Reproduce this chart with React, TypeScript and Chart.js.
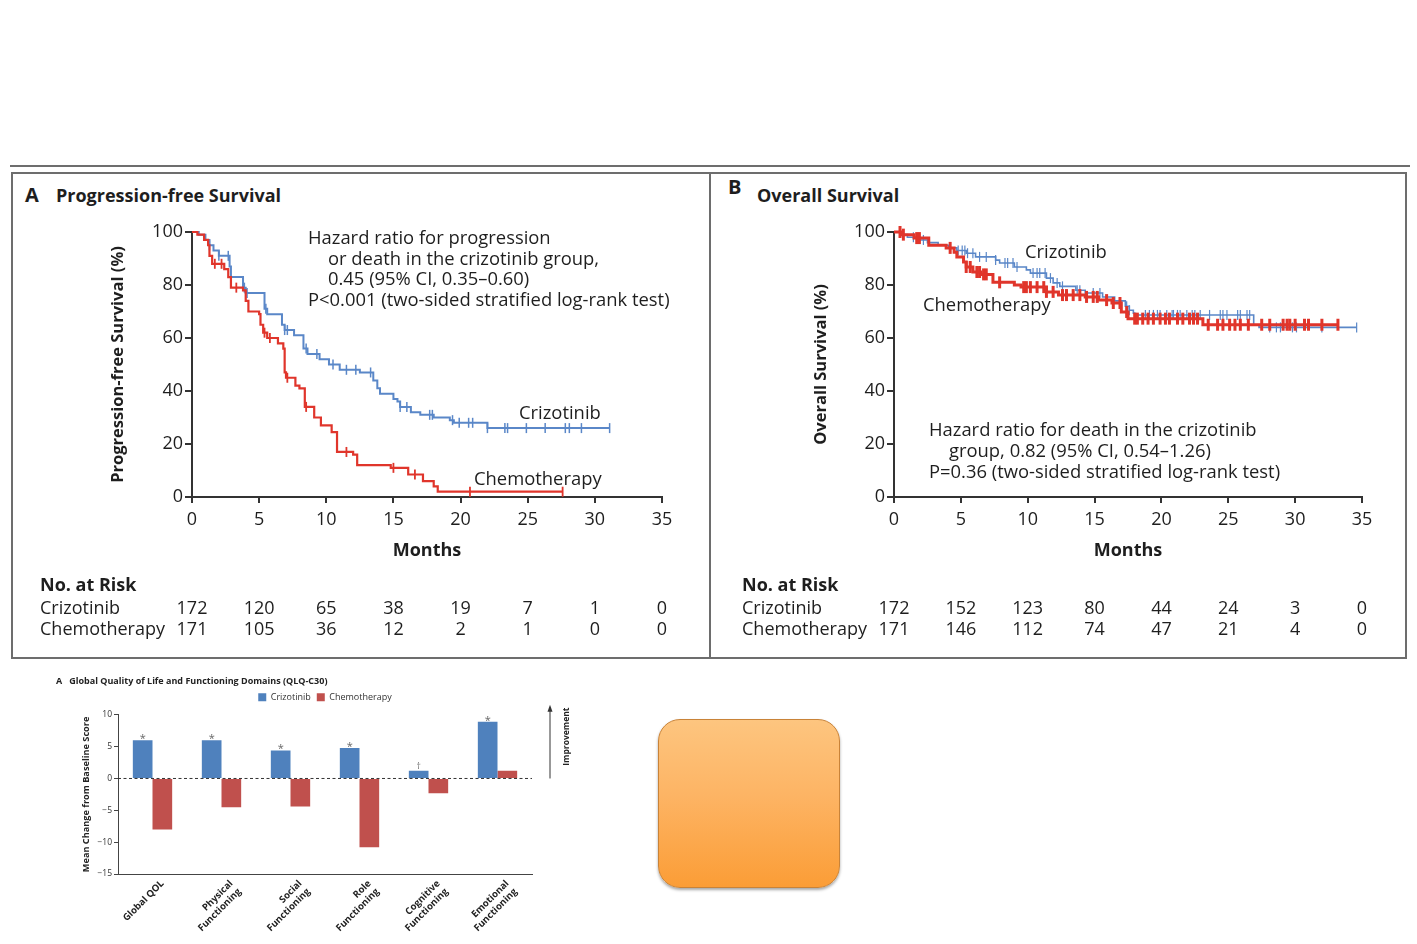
import React, { useEffect, useRef } from 'react';
import { Chart, registerables } from 'chart.js';

Chart.register(...registerables);

const FONT = '"Open Sans", "Noto Sans", "DejaVu Sans", sans-serif';
const INK = '#1e1e1e';
const AXIS = '#333333';
const BLUE = '#5a87c8';
const RED = '#e0352b';
const BAR_BLUE = '#4f81bd';
const BAR_RED = '#c0504d';
const FRAME = '#6d6d6d';

// ---------- Kaplan-Meier data ----------
const monthTicks = [0, 5, 10, 15, 20, 25, 30, 35];

const pfsCrizTimes = [0, 0.5, 1.0, 1.3, 1.6, 2.0, 2.8, 2.9, 3.8, 4.0, 5.4, 5.6, 6.7, 6.9, 7.6, 8.3, 8.6, 9.5, 10.2, 11.0, 12.5, 13.5, 13.8, 14.0, 15.0, 15.3, 15.5, 16.3, 17.0, 18.0, 19.2, 19.5, 22.0];
const pfsCrizSurv = [100, 99, 97, 95, 93, 91, 87, 83, 79, 77, 71, 69, 65, 63, 61, 56, 54, 52, 50, 48, 47, 44, 41, 39, 37, 36, 34, 32, 31, 30, 29, 28, 26];
const pfsCrizCensor = [1.3, 2.0, 2.7, 3.9, 4.1, 5.5, 6.9, 7.1, 8.5, 9.3, 10.5, 11.5, 12.2, 13.3, 15.5, 16.0, 17.7, 17.9, 19.4, 19.9, 20.6, 20.9, 22.0, 23.3, 23.5, 24.9, 26.3, 27.8, 28.1, 29.0, 31.1];

const pfsChemoTimes = [0, 0.4, 0.9, 1.2, 1.3, 1.5, 2.4, 2.7, 2.9, 3.8, 4.0, 4.2, 5.0, 5.1, 5.3, 5.6, 6.4, 6.8, 6.9, 7.0, 7.7, 8.0, 8.4, 9.1, 9.6, 10.4, 10.8, 12.0, 12.3, 14.8, 16.1, 17.2, 18.0, 18.3];
const pfsChemoSurv = [100, 99, 97, 95, 91, 88, 86, 83, 79, 78, 74, 70, 69, 65, 62, 60, 58, 56, 47, 45, 42, 41, 34, 30, 27, 24.5, 17, 16, 12, 11, 8.5, 6, 4, 2];
const pfsChemoCensor = [1.7, 2.2, 3.3, 5.4, 5.8, 7.1, 8.5, 11.5, 15.0, 16.6, 20.7, 27.6];

const osCrizTimes = [0, 0.5, 1.0, 1.8, 2.5, 3.3, 4.1, 4.7, 5.4, 6.1, 7.6, 7.9, 9.0, 9.9, 10.2, 11.4, 11.9, 12.4, 13.6, 14.3, 15.6, 16.5, 17.3, 17.6, 17.9, 18.0, 26.9, 27.3];
const osCrizSurv = [100, 99, 98, 97, 96, 95, 94, 93, 92, 90.6, 89.4, 88.3, 86.8, 85.7, 84.5, 82.6, 80.8, 79.5, 78, 77, 75.5, 74, 72, 70.5, 69.4, 68.7, 65, 64];
const osCrizCensor = [1.45, 2.2, 4.8, 5.1, 5.3, 5.5, 5.9, 6.4, 6.9, 7.6, 8.3, 8.5, 8.9, 9.2, 10.4, 10.7, 10.9, 11.3, 11.7, 12.2, 12.6, 13.7, 13.9, 14.9, 15.4, 17.4, 17.6, 18.8, 19.1, 19.4, 19.7, 19.9, 20.4, 20.8, 20.9, 21.2, 21.4, 21.9, 22.3, 22.5, 22.9, 23.6, 24.4, 24.6, 24.9, 25.7, 25.9, 26.4, 26.6, 28.1, 28.6, 28.9, 29.8, 30.1, 32.0, 34.6];

const osChemoTimes = [0, 0.6, 1.5, 2.6, 3.9, 4.5, 4.7, 5.2, 5.4, 5.9, 6.5, 7.4, 9.0, 9.5, 11.4, 12.3, 14.3, 15.3, 16.3, 17.0, 17.5, 23.1];
const osChemoSurv = [100, 99, 97.7, 95, 94, 92.4, 90.6, 88.7, 86.8, 84.9, 84, 81, 80, 79.2, 77.4, 76.2, 75.5, 74.3, 73.2, 69.8, 67.3, 65];
const osChemoCensor = [0.45, 0.7, 1.7, 1.9, 4.2, 5.4, 5.7, 6.2, 6.4, 6.7, 6.9, 7.9, 9.7, 9.9, 10.2, 10.7, 11.2, 11.4, 11.9, 12.6, 12.9, 13.4, 13.9, 14.4, 14.9, 15.2, 15.9, 16.4, 16.9, 17.4, 18.0, 18.2, 18.6, 19.0, 19.4, 19.9, 20.3, 20.6, 21.2, 21.6, 22.1, 22.4, 22.7, 23.5, 24.2, 24.6, 25.1, 25.5, 25.9, 26.5, 27.5, 28.1, 29.1, 29.4, 29.6, 30.0, 30.7, 31.0, 32.0, 33.2];

const pfsAtRiskCriz = [172, 120, 65, 38, 19, 7, 1, 0];
const pfsAtRiskChemo = [171, 105, 36, 12, 2, 1, 0, 0];
const osAtRiskCriz = [172, 152, 123, 80, 44, 24, 3, 0];
const osAtRiskChemo = [171, 146, 112, 74, 47, 21, 4, 0];

// ---------- QLQ-C30 bar data ----------
const qolDomains = [['Global QOL'], ['Physical', 'Functioning'], ['Social', 'Functioning'], ['Role', 'Functioning'], ['Cognitive', 'Functioning'], ['Emotional', 'Functioning']];
const qolCriz = [6.0, 6.0, 4.4, 4.8, 1.2, 8.9];
const qolChemo = [-8.0, -4.5, -4.4, -10.8, -2.3, 1.2];
const qolMarks = ['*', '*', '*', '*', '†', '*'];

function survivalAt(times: number[], surv: number[], t: number) {
  let v = surv[0];
  for (let i = 0; i < times.length; i++) if (times[i] <= t) v = surv[i];
  return v;
}

const atRiskPlugin = {
  id: 'atRisk',
  afterDraw(chart: any, _args: any, o: any) {
    const { ctx } = chart;
    const xs = chart.scales.x;
    ctx.save();
    ctx.fillStyle = INK;
    ctx.textBaseline = 'middle';
    ctx.textAlign = 'left';
    ctx.font = `bold 18px ${FONT}`;
    ctx.fillText('No. at Risk', o.labelX, o.headY);
    ctx.font = `18px ${FONT}`;
    o.rows.forEach((row: any, r: number) => {
      ctx.textAlign = 'left';
      ctx.fillText(row.label, o.labelX, o.rowY[r]);
      ctx.textAlign = 'center';
      row.values.forEach((v: number, i: number) => {
        ctx.fillText(String(v), xs.getPixelForValue(monthTicks[i]), o.rowY[r]);
      });
    });
    ctx.restore();
  },
};

type Series = { times: number[]; surv: number[]; censor: number[]; color: string; lineWidth: number; markSize: number; markWidth: number };

function KMChart(props: {
  left: number; top: number; width: number; height: number;
  pad: { left: number; right: number; top: number; bottom: number };
  yWidth: number; yTitle: string; yTitlePad: number; series: Series[];
  atRisk: { label: string; values: number[] }[];
}) {
  const ref = useRef<HTMLCanvasElement>(null);
  useEffect(() => {
    const datasets: any[] = [];
    props.series.forEach((s) => {
      const end = Math.max(...s.censor);
      const curve = s.times.map((t, i) => ({ x: t, y: s.surv[i] }));
      curve.push({ x: end, y: s.surv[s.surv.length - 1] });
      datasets.push({
        data: curve, borderColor: s.color, borderWidth: s.lineWidth, stepped: 'before',
        pointRadius: 0, fill: false, clip: false,
      });
      datasets.push({
        data: s.censor.map((t) => ({ x: t, y: survivalAt(s.times, s.surv, t) })),
        showLine: false, pointStyle: 'line', pointRotation: 90, pointRadius: s.markSize,
        pointBorderWidth: s.markWidth, pointBorderColor: s.color, pointBackgroundColor: s.color,
        borderColor: s.color, clip: false,
      });
    });
    const tickFont = { family: FONT, size: 18 };
    const chart = new Chart(ref.current as HTMLCanvasElement, {
      type: 'line',
      data: { datasets },
      plugins: [atRiskPlugin],
      options: {
        animation: false,
        responsive: false,
        events: [],
        layout: { padding: props.pad },
        plugins: {
          legend: { display: false },
          tooltip: { enabled: false },
          atRisk: {
            labelX: 20, headY: 586 - props.top,
            rowY: [609 - props.top, 630 - props.top],
            rows: props.atRisk,
          },
        } as any,
        scales: {
          x: {
            type: 'linear', min: 0, max: 35,
            ticks: { stepSize: 5, font: tickFont, color: INK, padding: 6, maxRotation: 0 },
            grid: { display: true, drawOnChartArea: false, drawTicks: true, tickLength: 6, tickWidth: 2, tickColor: AXIS, color: AXIS, lineWidth: 2 },
            border: { display: true, color: AXIS, width: 2 },
            title: { display: true, text: 'Months', color: INK, font: { family: FONT, size: 18, weight: 'bold' }, padding: { top: 0, bottom: 3 } },
            afterFit: (s: any) => { s.height = 68; },
          },
          y: {
            type: 'linear', min: 0, max: 100,
            ticks: { stepSize: 20, font: tickFont, color: INK, padding: 2 },
            grid: { display: true, drawOnChartArea: false, drawTicks: true, tickLength: 7, tickWidth: 2, tickColor: AXIS, color: AXIS, lineWidth: 2 },
            border: { display: true, color: AXIS, width: 2 },
            title: { display: true, text: props.yTitle, color: INK, font: { family: FONT, size: 16.5, weight: 'bold' }, padding: { top: props.yTitlePad, bottom: 0 } },
            afterFit: (s: any) => { s.width = props.yWidth; },
          },
        },
      } as any,
    });
    return () => chart.destroy();
  }, []);
  return (
    <canvas ref={ref} width={props.width} height={props.height}
      style={{ position: 'absolute', left: props.left, top: props.top, width: props.width, height: props.height, display: 'block' }} />
  );
}

const qolDecorPlugin = {
  id: 'qolDecor',
  afterDatasetsDraw(chart: any) {
    const { ctx, chartArea } = chart;
    const ys = chart.scales.y;
    const y0 = ys.getPixelForValue(0);
    ctx.save();
    ctx.strokeStyle = '#333';
    ctx.lineWidth = 1;
    ctx.setLineDash([3, 2.5]);
    ctx.beginPath();
    ctx.moveTo(chartArea.left, y0);
    ctx.lineTo(chartArea.right, y0);
    ctx.stroke();
    ctx.setLineDash([]);
    const meta = chart.getDatasetMeta(0);
    ctx.fillStyle = '#666';
    ctx.textAlign = 'center';
    ctx.textBaseline = 'alphabetic';
    meta.data.forEach((bar: any, i: number) => {
      const m = qolMarks[i];
      ctx.font = m === '*' ? `11px ${FONT}` : `8.5px ${FONT}`;
      ctx.fillText(m, bar.x, bar.y + (m === '*' ? 2 : -2));
    });
    ctx.restore();
  },
  afterDraw(chart: any) {
    const { ctx, chartArea } = chart;
    const ys = chart.scales.y;
    const y0 = ys.getPixelForValue(0);
    const ax = chartArea.right + 18;
    const yTop = chartArea.top - 10;
    ctx.save();
    ctx.strokeStyle = '#333';
    ctx.fillStyle = '#333';
    ctx.lineWidth = 1;
    ctx.beginPath();
    ctx.moveTo(ax, y0);
    ctx.lineTo(ax, yTop + 5);
    ctx.stroke();
    ctx.beginPath();
    ctx.moveTo(ax, yTop);
    ctx.lineTo(ax - 2.5, yTop + 7);
    ctx.lineTo(ax + 2.5, yTop + 7);
    ctx.closePath();
    ctx.fill();
    ctx.translate(chartArea.right + 35, (y0 + yTop) / 2 - 5);
    ctx.rotate(-Math.PI / 2);
    ctx.font = `bold 8.5px ${FONT}`;
    ctx.textAlign = 'center';
    ctx.textBaseline = 'middle';
    ctx.fillStyle = '#222';
    ctx.fillText('Improvement', 0, 0);
    ctx.restore();
  },
};

function QolChart() {
  const ref = useRef<HTMLCanvasElement>(null);
  useEffect(() => {
    const chart = new Chart(ref.current as HTMLCanvasElement, {
      type: 'bar',
      data: {
        labels: qolDomains as any,
        datasets: [
          { label: 'Crizotinib', data: qolCriz, backgroundColor: BAR_BLUE, borderWidth: 0, xAxisID: 'x', yAxisID: 'y' },
          { label: 'Chemotherapy', data: qolChemo, backgroundColor: BAR_RED, borderWidth: 0, xAxisID: 'x', yAxisID: 'y' },
        ],
      },
      plugins: [qolDecorPlugin],
      options: {
        animation: false,
        responsive: false,
        events: [],
        layout: { padding: { left: 0, right: 64, top: 0, bottom: 0 } },
        datasets: { bar: { categoryPercentage: 0.57, barPercentage: 1.0 } },
        plugins: {
          tooltip: { enabled: false },
          title: {
            display: true, align: 'start', text: 'A   Global Quality of Life and Functioning Domains (QLQ-C30)',
            color: '#222', font: { family: FONT, size: 9, weight: 'bold' }, padding: { top: 5, bottom: 0 },
          },
          legend: {
            display: true, position: 'top', fullSize: false,
            labels: { boxWidth: 8, boxHeight: 8, padding: 6, color: '#333', font: { family: FONT, size: 9 } },
          },
        },
        scales: {
          x: {
            type: 'category', position: 'bottom',
            ticks: { autoSkip: false, maxRotation: 45, minRotation: 45, labelOffset: 10, color: '#222', font: { family: FONT, size: 9.5, weight: 'bold' }, padding: -4 },
            grid: { display: false },
            border: { display: true, color: '#444', width: 1 },
            afterFit: (s: any) => { s.height = 65; },
          },
          xTop: {
            type: 'linear', position: 'top', display: true,
            grid: { display: false }, border: { display: false }, ticks: { display: false },
            afterFit: (s: any) => { s.height = 3; },
          },
          y: {
            type: 'linear', min: -15, max: 10,
            ticks: { stepSize: 5, color: '#333', font: { family: FONT, size: 8.5 }, padding: 2, callback: (v: any) => (v < 0 ? '\u2212' + Math.abs(v) : String(v)) },
            grid: { display: true, drawOnChartArea: false, drawTicks: true, tickLength: 4, color: '#444', lineWidth: 1 },
            border: { display: true, color: '#444', width: 1 },
            title: { display: true, text: 'Mean Change from Baseline Score', color: '#222', font: { family: FONT, size: 9.2, weight: 'bold' }, padding: { top: 25, bottom: 0 } },
            afterFit: (s: any) => { s.width = 62; },
          },
        },
      } as any,
    });
    return () => chart.destroy();
  }, []);
  return (
    <canvas ref={ref} width={540} height={268}
      style={{ position: 'absolute', left: 56, top: 671, width: 540, height: 268, display: 'block' }} />
  );
}

const Txt = (p: { x: number; y: number; size?: number; bold?: boolean; children: any }) => {
  const size = p.size || 18.4;
  return (
    <div style={{
      position: 'absolute', left: p.x, top: p.y - size * 0.63, fontFamily: FONT, fontSize: size,
      fontWeight: p.bold ? 700 : 400, lineHeight: `${size * 1.3}px`, color: INK, whiteSpace: 'nowrap',
    }}>{p.children}</div>
  );
};

export default function App() {
  return (
    <div style={{ position: 'absolute', left: 0, top: 0, width: 1417, height: 944, background: '#fff', overflow: 'hidden' }}>
      {/* frame */}
      <div style={{ position: 'absolute', left: 10, top: 165, width: 1400, height: 2, background: FRAME }} />
      <div style={{ position: 'absolute', left: 11, top: 172, width: 1392, height: 483, border: `2px solid ${FRAME}` }} />
      <div style={{ position: 'absolute', left: 709, top: 172, width: 2, height: 487, background: FRAME }} />

      {/* panel titles */}
      <Txt x={25} y={195} size={20} bold>A</Txt>
      <Txt x={56} y={195} size={18} bold>Progression-free Survival</Txt>
      <Txt x={728} y={187} size={20} bold>B</Txt>
      <Txt x={757} y={195} size={18} bold>Overall Survival</Txt>

      <KMChart
        left={20} top={215} width={662} height={430}
        pad={{ left: 80, right: 20, top: 17, bottom: 80 }}
        yWidth={92} yTitle="Progression-free Survival (%)" yTitlePad={8}
        series={[
          { times: pfsChemoTimes, surv: pfsChemoSurv, censor: pfsChemoCensor, color: RED, lineWidth: 2.2, markSize: 5, markWidth: 1.8 },
          { times: pfsCrizTimes, surv: pfsCrizSurv, censor: pfsCrizCensor, color: BLUE, lineWidth: 2, markSize: 5, markWidth: 1.5 },
        ]}
        atRisk={[{ label: 'Crizotinib', values: pfsAtRiskCriz }, { label: 'Chemotherapy', values: pfsAtRiskChemo }]}
      />
      <KMChart
        left={722} top={215} width={660} height={430}
        pad={{ left: 78, right: 20, top: 17, bottom: 80 }}
        yWidth={94} yTitle="Overall Survival (%)" yTitlePad={11}
        series={[
          { times: osChemoTimes, surv: osChemoSurv, censor: osChemoCensor, color: RED, lineWidth: 3, markSize: 6, markWidth: 3 },
          { times: osCrizTimes, surv: osCrizSurv, censor: osCrizCensor, color: BLUE, lineWidth: 1.6, markSize: 5, markWidth: 1.2 },
        ]}
        atRisk={[{ label: 'Crizotinib', values: osAtRiskCriz }, { label: 'Chemotherapy', values: osAtRiskChemo }]}
      />

      {/* PFS annotations */}
      <Txt x={308} y={237}>Hazard ratio for progression</Txt>
      <Txt x={328} y={258}>or death in the crizotinib group,</Txt>
      <Txt x={328} y={278}>0.45 (95% CI, 0.35–0.60)</Txt>
      <Txt x={308} y={299}>P&lt;0.001 (two-sided stratified log-rank test)</Txt>
      <Txt x={519} y={412}>Crizotinib</Txt>
      <Txt x={474} y={478}>Chemotherapy</Txt>

      {/* OS annotations */}
      <Txt x={1025} y={251}>Crizotinib</Txt>
      <Txt x={923} y={304}>Chemotherapy</Txt>
      <Txt x={929} y={429}>Hazard ratio for death in the crizotinib</Txt>
      <Txt x={949} y={450}>group, 0.82 (95% CI, 0.54–1.26)</Txt>
      <Txt x={929} y={471}>P=0.36 (two-sided stratified log-rank test)</Txt>

      <QolChart />

      <div style={{
        position: 'absolute', left: 658, top: 719, width: 182, height: 169, boxSizing: 'border-box',
        borderRadius: 22, border: '1px solid #c98338',
        background: 'linear-gradient(180deg, #fdc57f 0%, #fdb464 45%, #fb9d36 100%)',
        boxShadow: '0 2px 3px rgba(0,0,0,0.35)',
      }} />
    </div>
  );
}
